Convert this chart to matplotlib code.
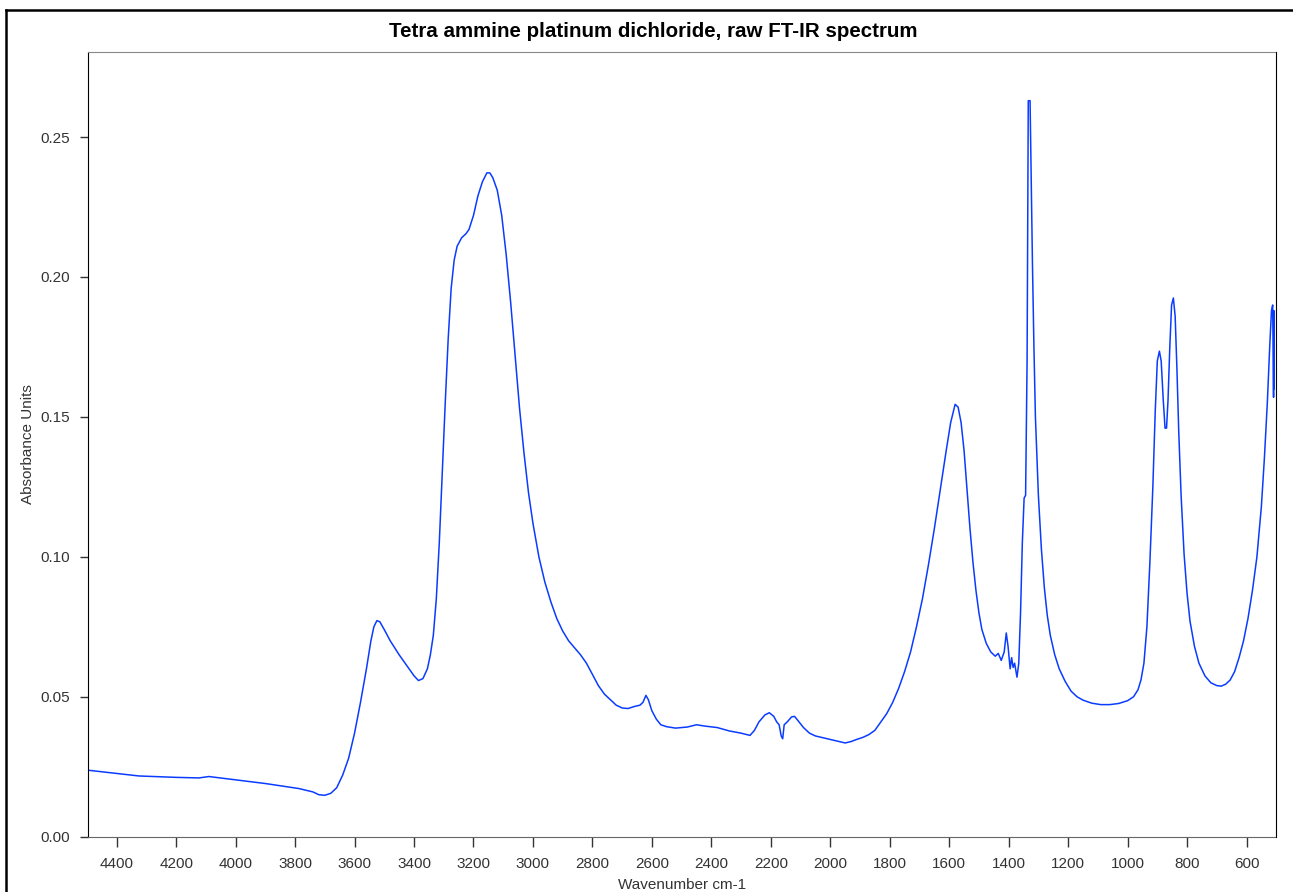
import matplotlib
matplotlib.use("Agg")
import matplotlib.pyplot as plt
from matplotlib.lines import Line2D

plt.rcParams['font.family'] = ['Liberation Sans', 'DejaVu Sans']

# spectrum (wavenumber cm-1, absorbance)
wavenumber = [
    4500, 4400, 4325, 4200, 4123, 4090, 4022, 3900, 3787, 3740,
    3720, 3700, 3680, 3660, 3640, 3620, 3600, 3580, 3560, 3545,
    3535, 3525, 3515, 3500, 3480, 3450, 3420, 3400, 3385, 3370,
    3355, 3345, 3335, 3325, 3315, 3305, 3295, 3285, 3275, 3265,
    3255, 3240, 3225, 3215, 3200, 3185, 3170, 3155, 3145, 3135,
    3120, 3105, 3090, 3075, 3060, 3045, 3030, 3015, 3000, 2980,
    2960, 2940, 2920, 2900, 2880, 2860, 2840, 2820, 2800, 2780,
    2760, 2740, 2720, 2700, 2680, 2660, 2640, 2630, 2620, 2612,
    2600, 2585, 2570, 2550, 2520, 2480, 2450, 2420, 2380, 2340,
    2300, 2270, 2255, 2240, 2220, 2205, 2190, 2180, 2172, 2165,
    2160, 2155, 2145, 2130, 2120, 2105, 2090, 2070, 2050, 2030,
    2010, 1990, 1970, 1950, 1930, 1910, 1890, 1870, 1850, 1830,
    1810, 1790, 1770, 1750, 1730, 1710, 1690, 1670, 1650, 1630,
    1610, 1595, 1580, 1570, 1560, 1550, 1540, 1530, 1520, 1510,
    1500, 1490, 1475, 1460, 1445, 1435, 1425, 1415, 1408, 1402,
    1395, 1390, 1385, 1380, 1372, 1366, 1360, 1354, 1348, 1343,
    1338, 1334, 1328, 1324, 1320, 1315, 1310, 1300, 1290, 1280,
    1270, 1260, 1245, 1230, 1210, 1190, 1170, 1150, 1120, 1090,
    1060, 1030, 1000, 980, 965, 955, 945, 935, 925, 915,
    907, 900, 893, 887, 880, 874, 869, 864, 858, 852,
    846, 840, 834, 828, 820, 810, 800, 790, 775, 760,
    740, 720, 700, 685, 670, 655, 640, 625, 610, 595,
    580, 565, 550, 540, 530, 522, 516, 512, 509, 508,
    507.5, 507,
]
absorbance = [
    0.0238, 0.0226, 0.0217, 0.0212, 0.0210, 0.0215, 0.0206, 0.0190, 0.0172, 0.0160,
    0.0150, 0.0148, 0.0155, 0.0175, 0.0220, 0.0280, 0.0370, 0.0480, 0.0600, 0.0700,
    0.0750, 0.0772, 0.0768, 0.0740, 0.0700, 0.0650, 0.0605, 0.0575, 0.0558, 0.0565,
    0.0600, 0.0650, 0.0720, 0.0850, 0.1050, 0.1300, 0.1550, 0.1780, 0.1960, 0.2060,
    0.2110, 0.2140, 0.2155, 0.2170, 0.2220, 0.2290, 0.2340, 0.2372, 0.2372, 0.2355,
    0.2310, 0.2220, 0.2080, 0.1910, 0.1720, 0.1530, 0.1370, 0.1230, 0.1120, 0.1000,
    0.0910, 0.0840, 0.0780, 0.0735, 0.0700, 0.0675, 0.0650, 0.0620, 0.0580, 0.0540,
    0.0510, 0.0490, 0.0470, 0.0460, 0.0458, 0.0465, 0.0470, 0.0480, 0.0505, 0.0490,
    0.0450, 0.0420, 0.0400, 0.0393, 0.0388, 0.0392, 0.0400, 0.0395, 0.0390, 0.0378,
    0.0370, 0.0362, 0.0380, 0.0410, 0.0435, 0.0443, 0.0430, 0.0410, 0.0400, 0.0360,
    0.0350, 0.0400, 0.0410, 0.0428, 0.0430, 0.0410, 0.0390, 0.0370, 0.0360, 0.0355,
    0.0350, 0.0345, 0.0340, 0.0335, 0.0340, 0.0348, 0.0355, 0.0365, 0.0380, 0.0410,
    0.0440, 0.0480, 0.0530, 0.0590, 0.0660, 0.0750, 0.0850, 0.0970, 0.1100, 0.1240,
    0.1380, 0.1480, 0.1545, 0.1535, 0.1480, 0.1380, 0.1240, 0.1100, 0.0980, 0.0880,
    0.0800, 0.0740, 0.0690, 0.0660, 0.0645, 0.0655, 0.0630, 0.0660, 0.0728, 0.0680,
    0.0600, 0.0640, 0.0605, 0.0620, 0.0570, 0.0620, 0.0800, 0.1050, 0.1210, 0.1220,
    0.1700, 0.2630, 0.2630, 0.2350, 0.2050, 0.1750, 0.1500, 0.1220, 0.1030, 0.0890,
    0.0790, 0.0720, 0.0650, 0.0600, 0.0555, 0.0520, 0.0500, 0.0488, 0.0477, 0.0472,
    0.0472, 0.0476, 0.0486, 0.0500, 0.0525, 0.0560, 0.0620, 0.0750, 0.0980, 0.1250,
    0.1520, 0.1700, 0.1735, 0.1700, 0.1560, 0.1460, 0.1460, 0.1560, 0.1750, 0.1900,
    0.1925, 0.1860, 0.1670, 0.1450, 0.1220, 0.1010, 0.0870, 0.0770, 0.0680, 0.0620,
    0.0575, 0.0550, 0.0540, 0.0538, 0.0545, 0.0560, 0.0590, 0.0640, 0.0700, 0.0780,
    0.0880, 0.1000, 0.1180, 0.1350, 0.1550, 0.1750, 0.1880, 0.1900, 0.1570, 0.1880,
    0.1600, 0.1700,
]

xticks = [4400, 4200, 4000, 3800, 3600, 3400, 3200, 3000, 2800, 2600,
          2400, 2200, 2000, 1800, 1600, 1400, 1200, 1000, 800, 600]
yticks = [0.00, 0.05, 0.10, 0.15, 0.20, 0.25]

fig = plt.figure(figsize=(12.93, 8.92), dpi=100)
ax = fig.add_axes([88 / 1293, 1 - 836.7 / 892, (1275.5 - 88) / 1293, (836.7 - 52) / 892])

ax.plot(wavenumber, absorbance, color='#0a3cff', linewidth=1.1)

ax.set_xlim(4496.5, 502.5)
ax.set_ylim(0, 0.2804)
ax.set_xticks(xticks)
ax.set_xticklabels([str(t) for t in xticks])
ax.set_yticks(yticks)
ax.set_yticklabels(['%.2f' % t for t in yticks])
ax.tick_params(axis='both', direction='out', labelsize=11, colors='#333333', length=6, width=1, pad=7)
ax.tick_params(axis='x', length=7.5, pad=7)

ax.spines['top'].set_color('#888888')
ax.spines['bottom'].set_color('#666666')
ax.spines['left'].set_color('black')
ax.spines['right'].set_color('black')

ax.set_xlabel('Wavenumber cm-1', fontsize=11, color='#333333', labelpad=5)
ax.set_ylabel('Absorbance Units', fontsize=11, color='#333333', labelpad=4)
fig.text(653 / 1293, 1 - 31.5 / 892, 'Tetra ammine platinum dichloride, raw FT-IR spectrum',
         ha='center', va='center', fontsize=14.8, fontweight='bold')

# outer frame of the original window (cut off at right and bottom)
fig.add_artist(Line2D([6 / 1293, 1.0], [1 - 10 / 892, 1 - 10 / 892], color='black', linewidth=1.8))
fig.add_artist(Line2D([6 / 1293, 6 / 1293], [0.0, 1 - 10 / 892], color='black', linewidth=1.8))

fig.savefig('out.png', dpi=100)
